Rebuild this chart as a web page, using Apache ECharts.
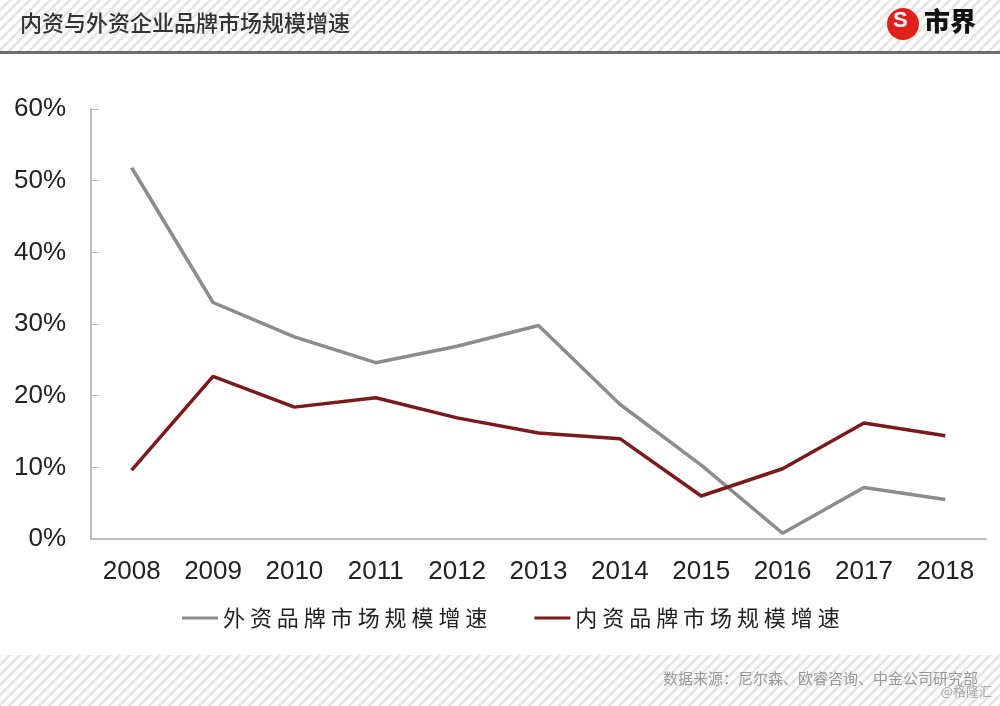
<!DOCTYPE html>
<html><head><meta charset="utf-8">
<script src="https://cdn.jsdelivr.net/npm/echarts@6/dist/echarts.min.js"></script>
<style>html,body{margin:0;padding:0;background:#fff}#c{width:1000px;height:706px}</style>
</head><body><div id="c"></div>
<script>
var categories = ['2008','2009','2010','2011','2012','2013','2014','2015','2016','2017','2018'];
var foreignGrowth = [51.8, 33.0, 28.2, 24.6, 26.9, 29.8, 18.8, 10.3, 0.8, 7.2, 5.5];
var domesticGrowth = [9.6, 22.7, 18.4, 19.7, 16.9, 14.8, 14.0, 6.0, 9.8, 16.2, 14.4];
var seriesNames = ['外资品牌市场规模增速', '内资品牌市场规模增速'];
var titleText = '内资与外资企业品牌市场规模增速';
var sourceText = '数据来源：尼尔森、欧睿咨询、中金公司研究部';

function hatch(){
  var cv = document.createElement('canvas'); cv.width = 10; cv.height = 10;
  var g = cv.getContext('2d');
  g.fillStyle = '#fbfbfb'; g.fillRect(0,0,10,10);
  g.strokeStyle = '#e4e4e4'; g.lineWidth = 2.5;
  g.beginPath();
  g.moveTo(-3,13); g.lineTo(13,-3);
  g.moveTo(-8,8); g.lineTo(8,-8);
  g.moveTo(2,18); g.lineTo(18,2);
  g.stroke();
  return cv;
}
var pat = {image: hatch(), repeat: 'repeat'};

var chart = echarts.init(document.getElementById('c'));
chart.setOption({
  backgroundColor: '#fff',
  animation: false,
  grid: {left: 91, right: 14, top: 109, bottom: 167},
  xAxis: {
    type: 'category', data: categories, boundaryGap: true,
    axisLine: {lineStyle: {color: '#bdbdbd', width: 2}},
    axisTick: {inside: true, length: 9, lineStyle: {color: '#bdbdbd', width: 1}},
    axisLabel: {color: '#222', fontSize: 26, fontFamily: 'Liberation Sans', margin: 20}
  },
  yAxis: {
    type: 'value', min: 0, max: 60, interval: 10,
    axisLine: {show: true, lineStyle: {color: '#bdbdbd', width: 2}},
    axisTick: {show: true, inside: true, length: 8, lineStyle: {color: '#bdbdbd'}},
    splitLine: {show: false},
    axisLabel: {color: '#222', fontSize: 26, fontFamily: 'Liberation Sans', margin: 25, formatter: '{value}%'}
  },
  legend: {
    bottom: 72, left: 177, itemGap: 47, itemWidth: 36, itemHeight: 3,
    icon: 'rect',
    formatter: function (n) { return n.split('').join(' '); },
    textStyle: {color: '#222', fontSize: 22, fontFamily: 'Noto Sans CJK SC'},
    data: seriesNames
  },
  series: [
    {name: seriesNames[0], type: 'line', data: foreignGrowth, symbol: 'none',
     lineStyle: {color: '#8c8c8c', width: 3.5}, itemStyle: {color: '#8c8c8c'}},
    {name: seriesNames[1], type: 'line', data: domesticGrowth, symbol: 'none',
     lineStyle: {color: '#7a1a1c', width: 3.5}, itemStyle: {color: '#7a1a1c'}}
  ],
  graphic: [
    {type: 'rect', left: 0, top: 0, z: -10, shape: {width: 1000, height: 51}, style: {fill: pat}},
    {type: 'rect', left: 0, top: 51, shape: {width: 1000, height: 3}, style: {fill: '#6e6e6e'}},
    {type: 'text', left: 20, top: 12, style: {text: titleText, fill: '#333', font: '500 22px "Noto Sans CJK SC"'}},
    {type: 'circle', shape: {cx: 903, cy: 24, r: 16}, style: {fill: '#e0201b'}},
    {type: 'text', left: 893, top: 10, style: {text: 'S', fill: '#fff', font: 'bold 22px "Liberation Sans"'}},
    {type: 'text', left: 924, top: 8, style: {text: '市界', fill: '#111', font: '900 26px "Noto Sans CJK SC"'}},
    {type: 'rect', left: 0, top: 655, z: -10, shape: {width: 1000, height: 51}, style: {fill: pat}},
    {type: 'text', right: 22, top: 671, style: {text: sourceText, fill: '#9a9a9a', font: '15px "Noto Sans CJK SC"'}},
    {type: 'text', right: 8, top: 685, style: {text: '@格隆汇', fill: '#a8a8a8', font: '13px "Noto Sans CJK SC"'}}
  ]
});
</script></body></html>
